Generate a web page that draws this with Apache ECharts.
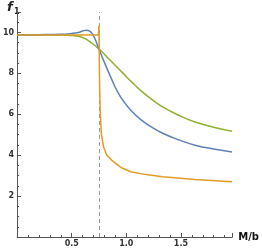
<!DOCTYPE html>
<html><head><meta charset="utf-8">
<script src="https://cdn.jsdelivr.net/npm/echarts@6/dist/echarts.min.js"></script>
<style>html,body{margin:0;padding:0;background:#fff}#c{width:262px;height:251px}</style>
</head><body><div id="c"></div>
<script>
// x = M/b, y = f1
const blueX  = [0, 0.2, 0.4, 0.5, 0.56, 0.6, 0.63, 0.66, 0.69, 0.72, 0.748, 0.806, 0.865, 0.92, 0.98, 1.041, 1.13, 1.23, 1.333, 1.48, 1.63, 1.8, 1.968];
const blueY  = [9.88, 9.89, 9.91, 9.95, 10.0, 10.07, 10.11, 10.08, 9.92, 9.6, 9.2, 8.45, 7.72, 7.1, 6.6, 6.2, 5.75, 5.38, 5.07, 4.75, 4.49, 4.3, 4.16];
const greenX = [0, 0.2, 0.4, 0.5, 0.6, 0.688, 0.748, 0.86, 0.98, 1.041, 1.13, 1.23, 1.333, 1.48, 1.63, 1.8, 1.968];
const greenY = [9.87, 9.87, 9.87, 9.85, 9.75, 9.46, 9.2, 8.6, 7.95, 7.62, 7.17, 6.74, 6.36, 5.95, 5.62, 5.37, 5.17];
const orangeX = [0, 0.4, 0.744, 0.749, 0.751, 0.753, 0.756, 0.762, 0.772, 0.792, 0.821, 0.865, 0.95, 1.041, 1.18, 1.333, 1.63, 1.968];
const orangeY = [9.87, 9.87, 9.87, 10.35, 9.5, 8.3, 7.2, 6.0, 5.0, 4.4, 4.0, 3.76, 3.4, 3.19, 3.05, 2.94, 2.81, 2.70];
const criticalX = 0.75;
const xTicks = [0.5, 1.0, 1.5];
const yTicks = [2, 4, 6, 8, 10];

const zip = (xs, ys) => xs.map((x, i) => [x, ys[i]]);
const chart = echarts.init(document.getElementById('c'));
const axisCol = '#555';
chart.setOption({
  animation: false,
  graphic: [
    { type: 'text', left: 7, top: 1, style: { text: 'f', font: 'italic bold 13px "DejaVu Sans"', fill: '#222' } },
    { type: 'text', left: 14, top: 8, style: { text: '1', font: 'bold 8px "DejaVu Sans"', fill: '#222' } }
  ],
  grid: { left: 12, right: 27, top: 12, bottom: 14, containLabel: false },
  xAxis: {
    type: 'value', min: 0, max: 1.97, interval: 0.5,
    name: 'M/b', nameLocation: 'end', nameGap: 6,
    nameTextStyle: { fontFamily: 'DejaVu Sans', fontWeight: 'bold', fontSize: 10, color: '#111', verticalAlign: 'middle' },
    axisLine: { show: true, onZero: false, lineStyle: { color: axisCol, width: 1 } },
    axisTick: { show: true, inside: true, length: 4, lineStyle: { color: axisCol } },
    minorTick: { show: true, splitNumber: 5, length: 2, lineStyle: { color: axisCol } },
    splitLine: { show: false },
    axisLabel: { fontFamily: 'DejaVu Sans', fontWeight: 'bold', fontSize: 8, color: '#333', margin: 3,
      formatter: v => xTicks.some(t => Math.abs(t - v) < 1e-9) ? v.toFixed(1) : '' }
  },
  yAxis: {
    type: 'value', min: 0, max: 11, interval: 2,
    axisLine: { show: true, onZero: false, lineStyle: { color: axisCol, width: 1 } },
    axisTick: { show: true, inside: true, length: 4, lineStyle: { color: axisCol } },
    minorTick: { show: true, splitNumber: 4, length: 2, lineStyle: { color: axisCol } },
    splitLine: { show: false },
    axisLabel: { fontFamily: 'DejaVu Sans', fontWeight: 'bold', fontSize: 8, color: '#333', margin: 3,
      formatter: v => yTicks.includes(v) ? String(v) : '' }
  },
  series: [
    { type: 'line', data: zip(greenX, greenY), smooth: 0.5, showSymbol: false, lineStyle: { color: '#8FB032', width: 1.5 }, z: 3 },
    { type: 'line', data: zip(blueX, blueY), smooth: 0.5, showSymbol: false, lineStyle: { color: '#5E81B5', width: 1.5 }, z: 4 },
    { type: 'line', data: zip(orangeX, orangeY), smooth: false, showSymbol: false, lineStyle: { color: '#E19C24', width: 1.5 }, z: 5,
      markLine: { silent: true, symbol: 'none', label: { show: false },
        lineStyle: { color: '#999', type: [4, 3], width: 1 },
        data: [[{ coord: [criticalX, 0] }, { coord: [criticalX, 11] }]] } }
  ]
});
</script></body></html>
